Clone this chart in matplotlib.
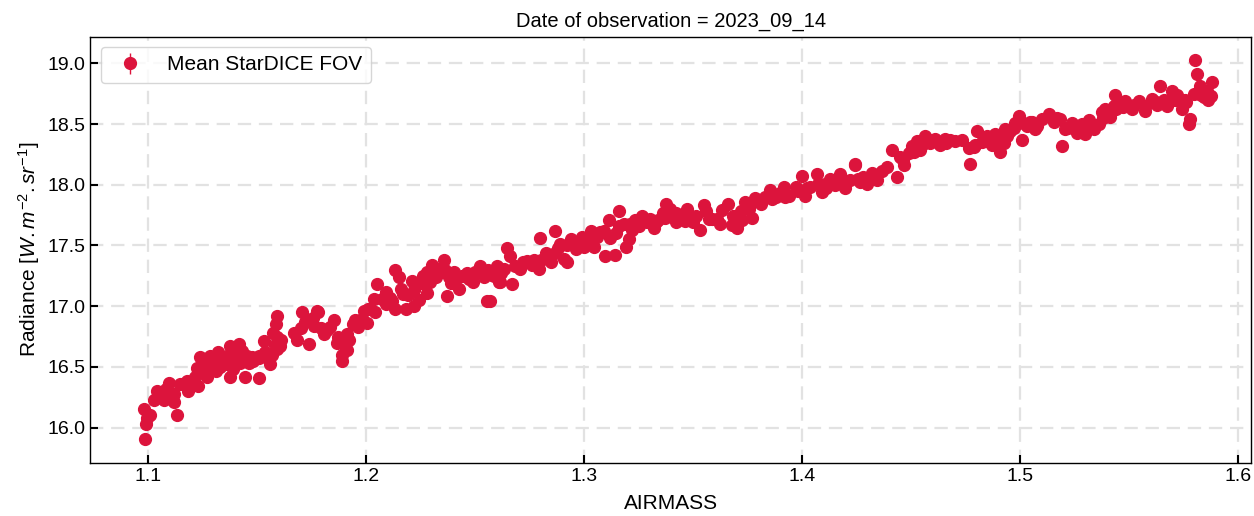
import numpy as np
import matplotlib
matplotlib.use('Agg')
from matplotlib import pyplot as plt

# airmass / mean radiance (one entry per point)
airmass = [
    1.0983, 1.0979, 1.0994, 1.1010, 1.0988, 1.1024, 1.1055, 1.1070, 1.1093, 1.1100,
    1.1116, 1.1132, 1.1147, 1.1177, 1.1193, 1.1216, 1.1230, 1.1223, 1.1239, 1.1260,
    1.1270, 1.1284, 1.1300, 1.1322, 1.1338, 1.1360, 1.1376, 1.1376, 1.1400, 1.1414,
    1.1422, 1.1445, 1.1452, 1.1475, 1.1506, 1.1506, 1.1529, 1.1537, 1.1560, 1.1567,
    1.1590, 1.1590, 1.1605, 1.1586, 1.1590, 1.1570, 1.1667, 1.1680, 1.1705, 1.1720,
    1.1735, 1.1757, 1.1780, 1.1790,
    1.1743, 1.1774, 1.1804, 1.1835, 1.1850, 1.1865, 1.1888, 1.1900, 1.1910, 1.1913,
    1.1940, 1.1950, 1.1970, 1.1988, 1.2005, 1.2010, 1.2035, 1.2051, 1.2070, 1.2090,
    1.2110, 1.2130, 1.2133, 1.2150, 1.2160, 1.2180, 1.2190, 1.2210, 1.2220, 1.2217,
    1.2250, 1.2280, 1.2278, 1.2301, 1.2320, 1.2340, 1.2355, 1.2363, 1.2370, 1.2390,
    1.2400, 1.2423, 1.2439, 1.2469, 1.2500, 1.2523, 1.2538, 1.2553, 1.2576, 1.2600,
    1.2610,
    1.2569, 1.2584, 1.2615, 1.2630, 1.2645, 1.2660, 1.2670, 1.2707, 1.2737, 1.2768,
    1.2790, 1.2798, 1.2800, 1.2822, 1.2845, 1.2867, 1.2867, 1.2890, 1.2906, 1.2920,
    1.2940, 1.2960, 1.2990, 1.3000, 1.3030, 1.3045, 1.3070, 1.3096, 1.3111, 1.3120,
    1.3140, 1.3145, 1.3157, 1.3180, 1.3190, 1.3203, 1.3220, 1.3233, 1.3264, 1.3287,
    1.3320, 1.3340, 1.3360, 1.3376, 1.3395, 1.3420,
    1.3394, 1.3420, 1.3447, 1.3470, 1.3485, 1.3510, 1.3532, 1.3550, 1.3560, 1.3585,
    1.3610, 1.3631, 1.3660, 1.3678, 1.3700, 1.3722, 1.3738, 1.3753, 1.3770, 1.3784,
    1.3807, 1.3830, 1.3850, 1.3880, 1.3899, 1.3914, 1.3937, 1.3970, 1.3998, 1.4013,
    1.4036, 1.4067, 1.4090, 1.4105, 1.4128, 1.4150, 1.4173, 1.4196, 1.4220, 1.4240,
    1.4257,
    1.4243, 1.4266, 1.4297, 1.4320, 1.4343, 1.4366, 1.4390, 1.4411, 1.4434, 1.4449,
    1.4464, 1.4487, 1.4502, 1.4526, 1.4540, 1.4564, 1.4587, 1.4610, 1.4633, 1.4656,
    1.4679, 1.4732, 1.4763, 1.4771, 1.4786, 1.4801, 1.4824, 1.4847, 1.4870, 1.4885,
    1.4908, 1.4923, 1.4931, 1.4954, 1.4977, 1.4992, 1.5008, 1.5030, 1.5053, 1.5076,
    1.5046, 1.5069, 1.5100, 1.5130, 1.5153, 1.5183, 1.5191, 1.5206, 1.5237, 1.5260,
    1.5282, 1.5298, 1.5313, 1.5336, 1.5359, 1.5374, 1.5390, 1.5412, 1.5428, 1.5436,
    1.5458, 1.5481, 1.5512, 1.5542, 1.5573, 1.5604, 1.5627, 1.5642, 1.5673, 1.5696,
    1.5719, 1.5742, 1.5757, 1.5772, 1.5780, 1.5795, 1.5799, 1.5810, 1.5826, 1.5841,
    1.5857, 1.5872, 1.5880,
    # denser parts of the band
    1.104, 1.108, 1.112, 1.118, 1.121, 1.125, 1.127, 1.131, 1.133, 1.135,
    1.138, 1.139, 1.141, 1.143, 1.146, 1.148, 1.151, 1.154, 1.158, 1.161,
    1.170, 1.173, 1.176, 1.182, 1.187, 1.189, 1.192, 1.196,
    1.204, 1.209, 1.212, 1.217, 1.224, 1.226, 1.229, 1.233, 1.238, 1.241,
    1.246, 1.249, 1.256, 1.262,
    1.268, 1.272, 1.276, 1.283, 1.288, 1.292, 1.297, 1.302, 1.306, 1.309,
    1.316, 1.321, 1.325, 1.330, 1.333, 1.337,
    1.343, 1.346, 1.350, 1.357, 1.362, 1.368, 1.372, 1.376, 1.381, 1.386,
    1.392, 1.398, 1.402, 1.407, 1.411, 1.416, 1.420, 1.428, 1.433,
    1.446, 1.451, 1.455, 1.458, 1.462, 1.466, 1.470, 1.479, 1.484, 1.489,
    1.494, 1.497, 1.502, 1.506,
    1.517, 1.522, 1.527, 1.532, 1.538, 1.544, 1.547, 1.552, 1.557, 1.562,
    1.566, 1.571, 1.576, 1.583, 1.586,
]
radiance = [
    15.91, 16.15, 16.08, 16.10, 16.03, 16.23, 16.27, 16.23, 16.37, 16.26,
    16.21, 16.10, 16.36, 16.38, 16.34, 16.42, 16.34, 16.49, 16.58, 16.52,
    16.42, 16.59, 16.53, 16.62, 16.55, 16.59, 16.67, 16.42, 16.62, 16.69,
    16.53, 16.42, 16.59, 16.58, 16.41, 16.59, 16.71, 16.62, 16.52, 16.60,
    16.65, 16.75, 16.67, 16.85, 16.92, 16.78, 16.78, 16.72, 16.95, 16.87,
    16.69, 16.90, 16.95, 16.82,
    16.89, 16.96, 16.77, 16.83, 16.89, 16.70, 16.55, 16.67, 16.77, 16.64,
    16.85, 16.89, 16.89, 16.96, 16.86, 16.98, 17.06, 17.18, 17.06, 17.02,
    17.07, 16.98, 17.30, 17.24, 17.14, 16.98, 17.09, 17.21, 17.13, 17.00,
    17.19, 17.11, 17.28, 17.34, 17.24, 17.28, 17.38, 17.30, 17.08, 17.19,
    17.28, 17.14, 17.25, 17.22, 17.28, 17.33, 17.24, 17.04, 17.26, 17.33,
    17.20,
    17.04, 17.25, 17.20, 17.31, 17.48, 17.41, 17.18, 17.31, 17.37, 17.38,
    17.31, 17.56, 17.38, 17.44, 17.36, 17.62, 17.44, 17.51, 17.39, 17.36,
    17.55, 17.47, 17.57, 17.49, 17.62, 17.49, 17.61, 17.41, 17.71, 17.56,
    17.42, 17.60, 17.78, 17.68, 17.49, 17.55, 17.63, 17.71, 17.74, 17.69,
    17.64, 17.71, 17.77, 17.84, 17.74, 17.77,
    17.80, 17.69, 17.75, 17.80, 17.72, 17.74, 17.63, 17.83, 17.78, 17.72,
    17.72, 17.79, 17.84, 17.67, 17.64, 17.71, 17.86, 17.80, 17.73, 17.89,
    17.86, 17.90, 17.96, 17.90, 17.93, 17.98, 17.91, 17.98, 18.07, 17.91,
    17.98, 18.09, 17.94, 18.01, 18.05, 18.00, 18.09, 17.97, 18.04, 18.16,
    18.05,
    18.17, 18.02, 18.01, 18.10, 18.04, 18.11, 18.15, 18.29, 18.06, 18.23,
    18.16, 18.26, 18.32, 18.36, 18.29, 18.40, 18.34, 18.38, 18.33, 18.38,
    18.37, 18.37, 18.30, 18.17, 18.31, 18.44, 18.35, 18.40, 18.33, 18.42,
    18.27, 18.34, 18.46, 18.44, 18.51, 18.57, 18.37, 18.48, 18.52, 18.48,
    18.52, 18.46, 18.54, 18.58, 18.52, 18.54, 18.32, 18.46, 18.51, 18.43,
    18.50, 18.42, 18.53, 18.46, 18.50, 18.60, 18.62, 18.56, 18.65, 18.74,
    18.65, 18.69, 18.62, 18.69, 18.61, 18.71, 18.66, 18.81, 18.65, 18.77,
    18.74, 18.62, 18.70, 18.50, 18.54, 18.75, 19.03, 18.91, 18.81, 18.72,
    18.77, 18.73, 18.85,
    16.30, 16.32, 16.28, 16.30, 16.36, 16.45, 16.50, 16.47, 16.50, 16.52,
    16.55, 16.48, 16.57, 16.63, 16.53, 16.55, 16.57, 16.58, 16.68, 16.72,
    16.82, 16.88, 16.84, 16.80, 16.75, 16.60, 16.72, 16.83,
    16.95, 17.12, 17.04, 17.10, 17.05, 17.25, 17.20, 17.31, 17.24, 17.22,
    17.27, 17.20, 17.30, 17.27,
    17.33, 17.36, 17.34, 17.40, 17.48, 17.50, 17.52, 17.55, 17.57, 17.62,
    17.66, 17.68, 17.66, 17.72, 17.69, 17.73,
    17.72, 17.70, 17.69, 17.72, 17.68, 17.74, 17.78, 17.84, 17.84, 17.88,
    17.90, 17.95, 17.97, 18.01, 17.97, 18.03, 18.02, 18.06, 18.07,
    18.20, 18.27, 18.33, 18.37, 18.35, 18.34, 18.36, 18.33, 18.36, 18.37,
    18.40, 18.47, 18.50, 18.50,
    18.55, 18.47, 18.47, 18.48, 18.55, 18.62, 18.64, 18.66, 18.64, 18.68,
    18.70, 18.70, 18.68, 18.74, 18.70,
]
radiance_err = 0.01

plt.rcParams['font.family'] = ['Liberation Sans', 'DejaVu Sans']
plt.rcParams['mathtext.fontset'] = 'custom'
plt.rcParams['mathtext.rm'] = 'Liberation Sans'
plt.rcParams['mathtext.it'] = 'Liberation Sans:italic'

fig = plt.figure(figsize=(12.54, 5.16), dpi=100)
ax = fig.add_axes([0.072, 0.103, 0.926, 0.826])

ax.errorbar(airmass, radiance, yerr=radiance_err, fmt='o', color='crimson',
            markersize=8.5, elinewidth=1, label='Mean StarDICE FOV')

ax.set_xlim(1.0734, 1.606)
ax.set_ylim(15.71, 19.22)
ax.set_xticks([1.1, 1.2, 1.3, 1.4, 1.5, 1.6])
ax.set_yticks([16.0, 16.5, 17.0, 17.5, 18.0, 18.5, 19.0])

ax.grid(True, linestyle=(0, (6, 3.5)), color='#e2e2e2', linewidth=1.6)
ax.set_axisbelow(True)
ax.tick_params(direction='in', length=6, width=1.5, labelsize=14)
for s in ax.spines.values():
    s.set_linewidth(1.0)

ax.set_title('Date of observation = 2023_09_14', fontsize=14.5, pad=7)
ax.set_xlabel('AIRMASS', fontsize=15, labelpad=7)
ax.set_ylabel(r'Radiance [$W{.}m^{-2}{.}sr^{-1}$]', fontsize=15)
ax.legend(loc='upper left', fontsize=15, handletextpad=0.8)

plt.savefig('out.png', dpi=100)
